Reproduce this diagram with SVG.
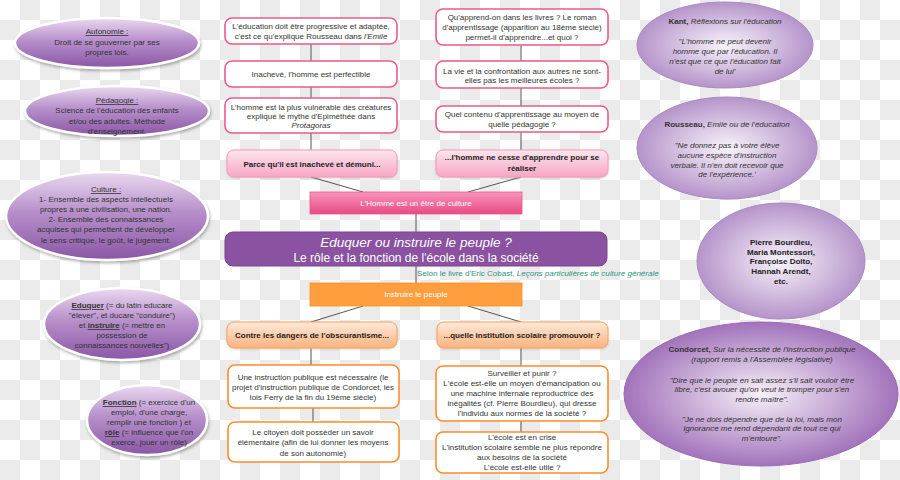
<svg xmlns="http://www.w3.org/2000/svg" width="900" height="480" viewBox="0 0 900 480">
<defs>
<pattern id="checker" x="0" y="0" width="40" height="40" patternUnits="userSpaceOnUse">
<rect width="40" height="40" fill="#ffffff"/>
<rect x="20" y="0" width="20" height="20" fill="#ebebeb"/>
<rect x="0" y="20" width="20" height="20" fill="#ebebeb"/>
</pattern>
<linearGradient id="leftEll" x1="0" y1="0" x2="0" y2="1">
<stop offset="0" stop-color="#ead9f0"/>
<stop offset="0.45" stop-color="#b790cb"/>
<stop offset="1" stop-color="#8a56a5"/>
</linearGradient>
<radialGradient id="rightEll" cx="0.5" cy="0.5" r="0.5">
<stop offset="0" stop-color="#f8f3fa"/>
<stop offset="1" stop-color="#b594ca"/>
</radialGradient>
<radialGradient id="condEll" cx="0.5" cy="0.5" r="0.5">
<stop offset="0" stop-color="#f6f0f8"/>
<stop offset="1" stop-color="#a273bb"/>
</radialGradient>
<linearGradient id="pinkFill" x1="0" y1="0" x2="0" y2="1">
<stop offset="0" stop-color="#fde6ee"/>
<stop offset="1" stop-color="#f7a6c4"/>
</linearGradient>
<linearGradient id="orangeFill" x1="0" y1="0" x2="0" y2="1">
<stop offset="0" stop-color="#feeadb"/>
<stop offset="1" stop-color="#fbb27c"/>
</linearGradient>
<linearGradient id="pinkBar" x1="0" y1="0" x2="0" y2="1">
<stop offset="0" stop-color="#f795bb"/>
<stop offset="1" stop-color="#ea4a85"/>
</linearGradient>
<filter id="shadow" x="-10%" y="-10%" width="125%" height="135%">
<feDropShadow dx="1" dy="2" stdDeviation="1.5" flood-color="#555" flood-opacity="0.45"/>
</filter>
<filter id="soft" x="-5%" y="-10%" width="110%" height="130%">
<feDropShadow dx="0" dy="1" stdDeviation="1" flood-color="#888" flood-opacity="0.35"/>
</filter>
</defs>
<style>
text { font-family: "Liberation Sans", Arial, sans-serif; font-size: 8px; fill: #333; text-anchor: middle; }
.dark { fill: #222; }
.b { font-weight: bold; }
.i { font-style: italic; }
.u { text-decoration: underline; }
.lell { fill: url(#leftEll); stroke: #ffffff; stroke-width: 2.5; filter: url(#shadow); }
.rell { fill: url(#rightEll); stroke: #a98abe; stroke-width: 1; }
.cell { fill: url(#condEll); stroke: #9a6bb3; stroke-width: 1; }
.pbox { fill: #ffffff; stroke: #ec5a8f; stroke-width: 1.6; }
.obox { fill: #ffffff; stroke: #fb8c2c; stroke-width: 1.6; }
.pfill { fill: url(#pinkFill); stroke: #f39ab9; stroke-width: 1; filter: url(#soft); }
.ofill { fill: url(#orangeFill); stroke: #f9a35c; stroke-width: 1; filter: url(#soft); }
.conn line { stroke: #555; stroke-width: 1; }
.w { fill: #ffffff; }
</style>

<rect width="900" height="480" fill="url(#checker)"/>

<g class="conn" id="connectors">
<line x1="311" y1="44" x2="311" y2="61"/>
<line x1="311" y1="87" x2="311" y2="98"/>
<line x1="311" y1="133" x2="311" y2="150"/>
<line x1="521" y1="45" x2="521" y2="61"/>
<line x1="521" y1="88" x2="521" y2="106"/>
<line x1="521" y1="132" x2="521" y2="150"/>
<line x1="311" y1="177" x2="363" y2="192"/>
<line x1="521" y1="177" x2="468" y2="192"/>
<line x1="416" y1="214" x2="416" y2="232"/>
<line x1="416" y1="266" x2="416" y2="283"/>
<line x1="363" y1="306" x2="311" y2="322"/>
<line x1="468" y1="306" x2="521" y2="322"/>
<line x1="311" y1="348" x2="311" y2="365"/>
<line x1="313" y1="408" x2="313" y2="422"/>
<line x1="521" y1="348" x2="521" y2="366"/>
<line x1="521" y1="421" x2="521" y2="432"/>
</g>

<!-- Left ellipses -->
<g id="autonomie">
<ellipse class="lell" cx="107" cy="43" rx="92" ry="25"/>
<text x="107" y="34"><tspan class="u">Autonomie :</tspan></text>
<text x="107" y="45">Droit de se gouverner par ses</text>
<text x="107" y="55">propres lois.</text>
</g>
<g id="pedagogie">
<ellipse class="lell" cx="117" cy="111" rx="92" ry="25"/>
<text x="117" y="103"><tspan class="u">Pédagogie :</tspan></text>
<text x="117" y="113">Science de l'éducation des enfants</text>
<text x="117" y="124">et/ou des adultes. Méthode</text>
<text x="117" y="134">d'enseignement.</text>
</g>
<g id="culture">
<ellipse class="lell" cx="107" cy="216" rx="101" ry="44"/>
<text x="106" y="192"><tspan class="u">Culture :</tspan></text>
<text x="106" y="202">1- Ensemble des aspects intellectuels</text>
<text x="106" y="212">propres à une civilisation, une nation.</text>
<text x="106" y="222">2- Ensemble des connaissances</text>
<text x="106" y="232">acquises qui permettent de développer</text>
<text x="106" y="243">le sens critique, le goût, le jugement.</text>
</g>
<g id="eduquer">
<ellipse class="lell" cx="122" cy="324" rx="78" ry="36"/>
<text x="122" y="308"><tspan class="u b">Eduquer</tspan> (= du latin educare</text>
<text x="122" y="318">"élever", et ducare "conduire")</text>
<text x="122" y="328">et <tspan class="u b">instruire</tspan> (= mettre en</text>
<text x="122" y="338">possession de</text>
<text x="122" y="348">connaissances nouvelles")</text>
</g>
<g id="fonction">
<ellipse class="lell" cx="147" cy="420" rx="60" ry="35"/>
<text x="149" y="405"><tspan class="u b">Fonction</tspan> (= exercice d'un</text>
<text x="149" y="415">emploi, d'une charge,</text>
<text x="149" y="425">remplir une fonction ) et</text>
<text x="149" y="435"><tspan class="u b">rôle</tspan> (= influence que l'on</text>
<text x="149" y="445">exerce, jouer un rôle)</text>
</g>

<!-- Center left column -->
<g id="box-emile">
<rect class="pbox" x="225" y="18" width="172" height="26" rx="7"/>
<text x="311" y="29">L'éducation doit être progressive et adaptée,</text>
<text x="311" y="39">c'est ce qu'explique Rousseau dans <tspan class="i">l'Emile</tspan></text>
</g>
<g id="box-inacheve">
<rect class="pbox" x="225" y="61" width="172" height="26" rx="7"/>
<text x="311" y="77">Inachevé, l'homme est perfectible</text>
</g>
<g id="box-protagoras">
<rect class="pbox" x="225" y="98" width="172" height="35" rx="7"/>
<text x="311" y="110">L'homme est la plus vulnérable des créatures</text>
<text x="311" y="119">explique le mythe d'Epiméthée dans</text>
<text x="311" y="128" class="i">Protagoras</text>
</g>
<g id="box-parce">
<rect class="pfill" x="227" y="150" width="170" height="27" rx="7"/>
<text x="312" y="167" class="b dark">Parce qu'il est inachevé et démuni...</text>
</g>

<!-- Center right column -->
<g id="box-livres">
<rect class="pbox" x="436" y="9" width="172" height="36" rx="7"/>
<text x="522" y="20">Qu'apprend-on dans les livres ? Le roman</text>
<text x="522" y="30">d'apprentissage (apparition au 18ème siècle)</text>
<text x="522" y="40">permet-il d'apprendre...et quoi ?</text>
</g>
<g id="box-vie">
<rect class="pbox" x="436" y="61" width="172" height="27" rx="7"/>
<text x="522" y="74">La vie et la confrontation aux autres ne sont-</text>
<text x="522" y="83">elles pas les meilleures écoles ?</text>
</g>
<g id="box-contenu">
<rect class="pbox" x="436" y="106" width="172" height="26" rx="7"/>
<text x="522" y="117">Quel contenu d'apprentissage au moyen de</text>
<text x="522" y="127">quelle pédagogie ?</text>
</g>
<g id="box-cesse">
<rect class="pfill" x="436" y="150" width="172" height="27" rx="7"/>
<text x="522" y="160" class="b dark">...l'homme ne cesse d'apprendre pour se</text>
<text x="522" y="171" class="b dark">réaliser</text>
</g>

<!-- Central spine -->
<g id="bar-culture">
<rect x="310" y="192" width="212" height="22" fill="url(#pinkBar)" stroke="#e9578e" stroke-width="0.8"/>
<text x="416" y="206" class="w">L'Homme est un être de culture</text>
</g>
<g id="title">
<rect x="225" y="232" width="382" height="34" rx="8" fill="#8a52a0" stroke="#7a4491" stroke-width="1"/>
<text x="416" y="247" class="w i" style="font-size:13.5px">Eduquer ou instruire le peuple ?</text>
<text x="416" y="262" class="w" style="font-size:12px">Le rôle et la fonction de l'école dans la société</text>
</g>
<g id="source">
<text x="417" y="276" style="text-anchor:start;fill:#2e9580">Selon le livre d'Eric Cobast, <tspan class="i">Leçons particulières de culture générale</tspan></text>
</g>
<g id="bar-instruire">
<rect x="310" y="283" width="212" height="23" fill="#ff9e3e" stroke="#ff8c26" stroke-width="0.8"/>
<text x="416" y="297" class="w">Instruire le peuple</text>
</g>

<!-- Bottom left column -->
<g id="box-obscurantisme">
<rect class="ofill" x="227" y="322" width="170" height="26" rx="7"/>
<text x="312" y="338" class="b dark">Contre les dangers de l'obscurantisme...</text>
</g>
<g id="box-instruction">
<rect class="obox" x="228" y="365" width="171" height="43" rx="7"/>
<text x="313" y="380">Une instruction publique est nécessaire (le</text>
<text x="313" y="390">projet d'instruction publique de Condorcet, les</text>
<text x="313" y="400">lois Ferry de la fin du 19ème siècle)</text>
</g>
<g id="box-citoyen">
<rect class="obox" x="228" y="422" width="171" height="40" rx="7"/>
<text x="313" y="435">Le citoyen doit posséder un savoir</text>
<text x="313" y="445">élémentaire (afin de lui donner les moyens</text>
<text x="313" y="456">de son autonomie)</text>
</g>

<!-- Bottom right column -->
<g id="box-institution">
<rect class="ofill" x="437" y="322" width="171" height="26" rx="7"/>
<text x="522" y="338" class="b dark">...quelle institution scolaire promouvoir ?</text>
</g>
<g id="box-surveiller">
<rect class="obox" x="436" y="366" width="172" height="55" rx="7"/>
<text x="522" y="376">Surveiller et punir ?</text>
<text x="522" y="386">L'école est-elle un moyen d'émancipation ou</text>
<text x="522" y="396">une machine infernale reproductrice des</text>
<text x="522" y="406">inégalités (cf. Pierre Bourdieu), qui dresse</text>
<text x="522" y="416">l'individu aux normes de la société ?</text>
</g>
<g id="box-crise">
<rect class="obox" x="436" y="432" width="172" height="41" rx="7"/>
<text x="522" y="440">L'école est en crise</text>
<text x="522" y="450">L'institution scolaire semble ne plus répondre</text>
<text x="522" y="460">aux besoins de la société</text>
<text x="522" y="470">L'école est-elle utile ?</text>
</g>

<!-- Right ellipses -->
<g id="kant">
<ellipse class="rell" cx="725" cy="45" rx="88" ry="43"/>
<text x="725" y="24"><tspan class="b">Kant,</tspan> <tspan class="i">Réflexions sur l'éducation</tspan></text>
<text x="725" y="44" class="i">"L'homme ne peut devenir</text>
<text x="725" y="54" class="i">homme que par l'éducation. Il</text>
<text x="725" y="64" class="i">n'est que ce que l'éducation fait</text>
<text x="725" y="74" class="i">de lui'</text>
</g>
<g id="rousseau">
<ellipse class="rell" cx="727" cy="148" rx="90" ry="51"/>
<text x="727" y="127"><tspan class="b">Rousseau,</tspan> <tspan class="i">Emile ou de l'éducation</tspan></text>
<text x="727" y="148" class="i">"Ne donnez pas à votre élève</text>
<text x="727" y="158" class="i">aucune espèce d'instruction</text>
<text x="727" y="168" class="i">verbale. Il n'en doit recevoir que</text>
<text x="727" y="177" class="i">de l'expérience.'</text>
</g>
<g id="bourdieu">
<ellipse class="rell" cx="781" cy="261" rx="84" ry="58"/>
<text x="781" y="245" class="b dark">Pierre Bourdieu,</text>
<text x="781" y="255" class="b dark">Maria Montessori,</text>
<text x="781" y="264" class="b dark">Françoise Dolto,</text>
<text x="781" y="274" class="b dark">Hannah Arendt,</text>
<text x="781" y="284" class="b dark">etc.</text>
</g>
<g id="condorcet">
<ellipse class="cell" cx="761" cy="394" rx="137" ry="72"/>
<text x="762" y="352"><tspan class="b">Condorcet,</tspan> <tspan class="i">Sur la nécessité de l'instruction publique</tspan></text>
<text x="762" y="362" class="i">(rapport remis à l'Assemblée législative)</text>
<text x="762" y="383" class="i">"Dire que le peuple en sait assez s'il sait vouloir être</text>
<text x="762" y="392" class="i">libre, c'est avouer qu'on veut le tromper pour s'en</text>
<text x="762" y="402" class="i">rendre maître".</text>
<text x="762" y="422" class="i">"Je ne dois dépendre que de la loi, mais mon</text>
<text x="762" y="431" class="i">ignorance me rend dépendant de tout ce qui</text>
<text x="762" y="441" class="i">m'entoure".</text>
</g>
</svg>
